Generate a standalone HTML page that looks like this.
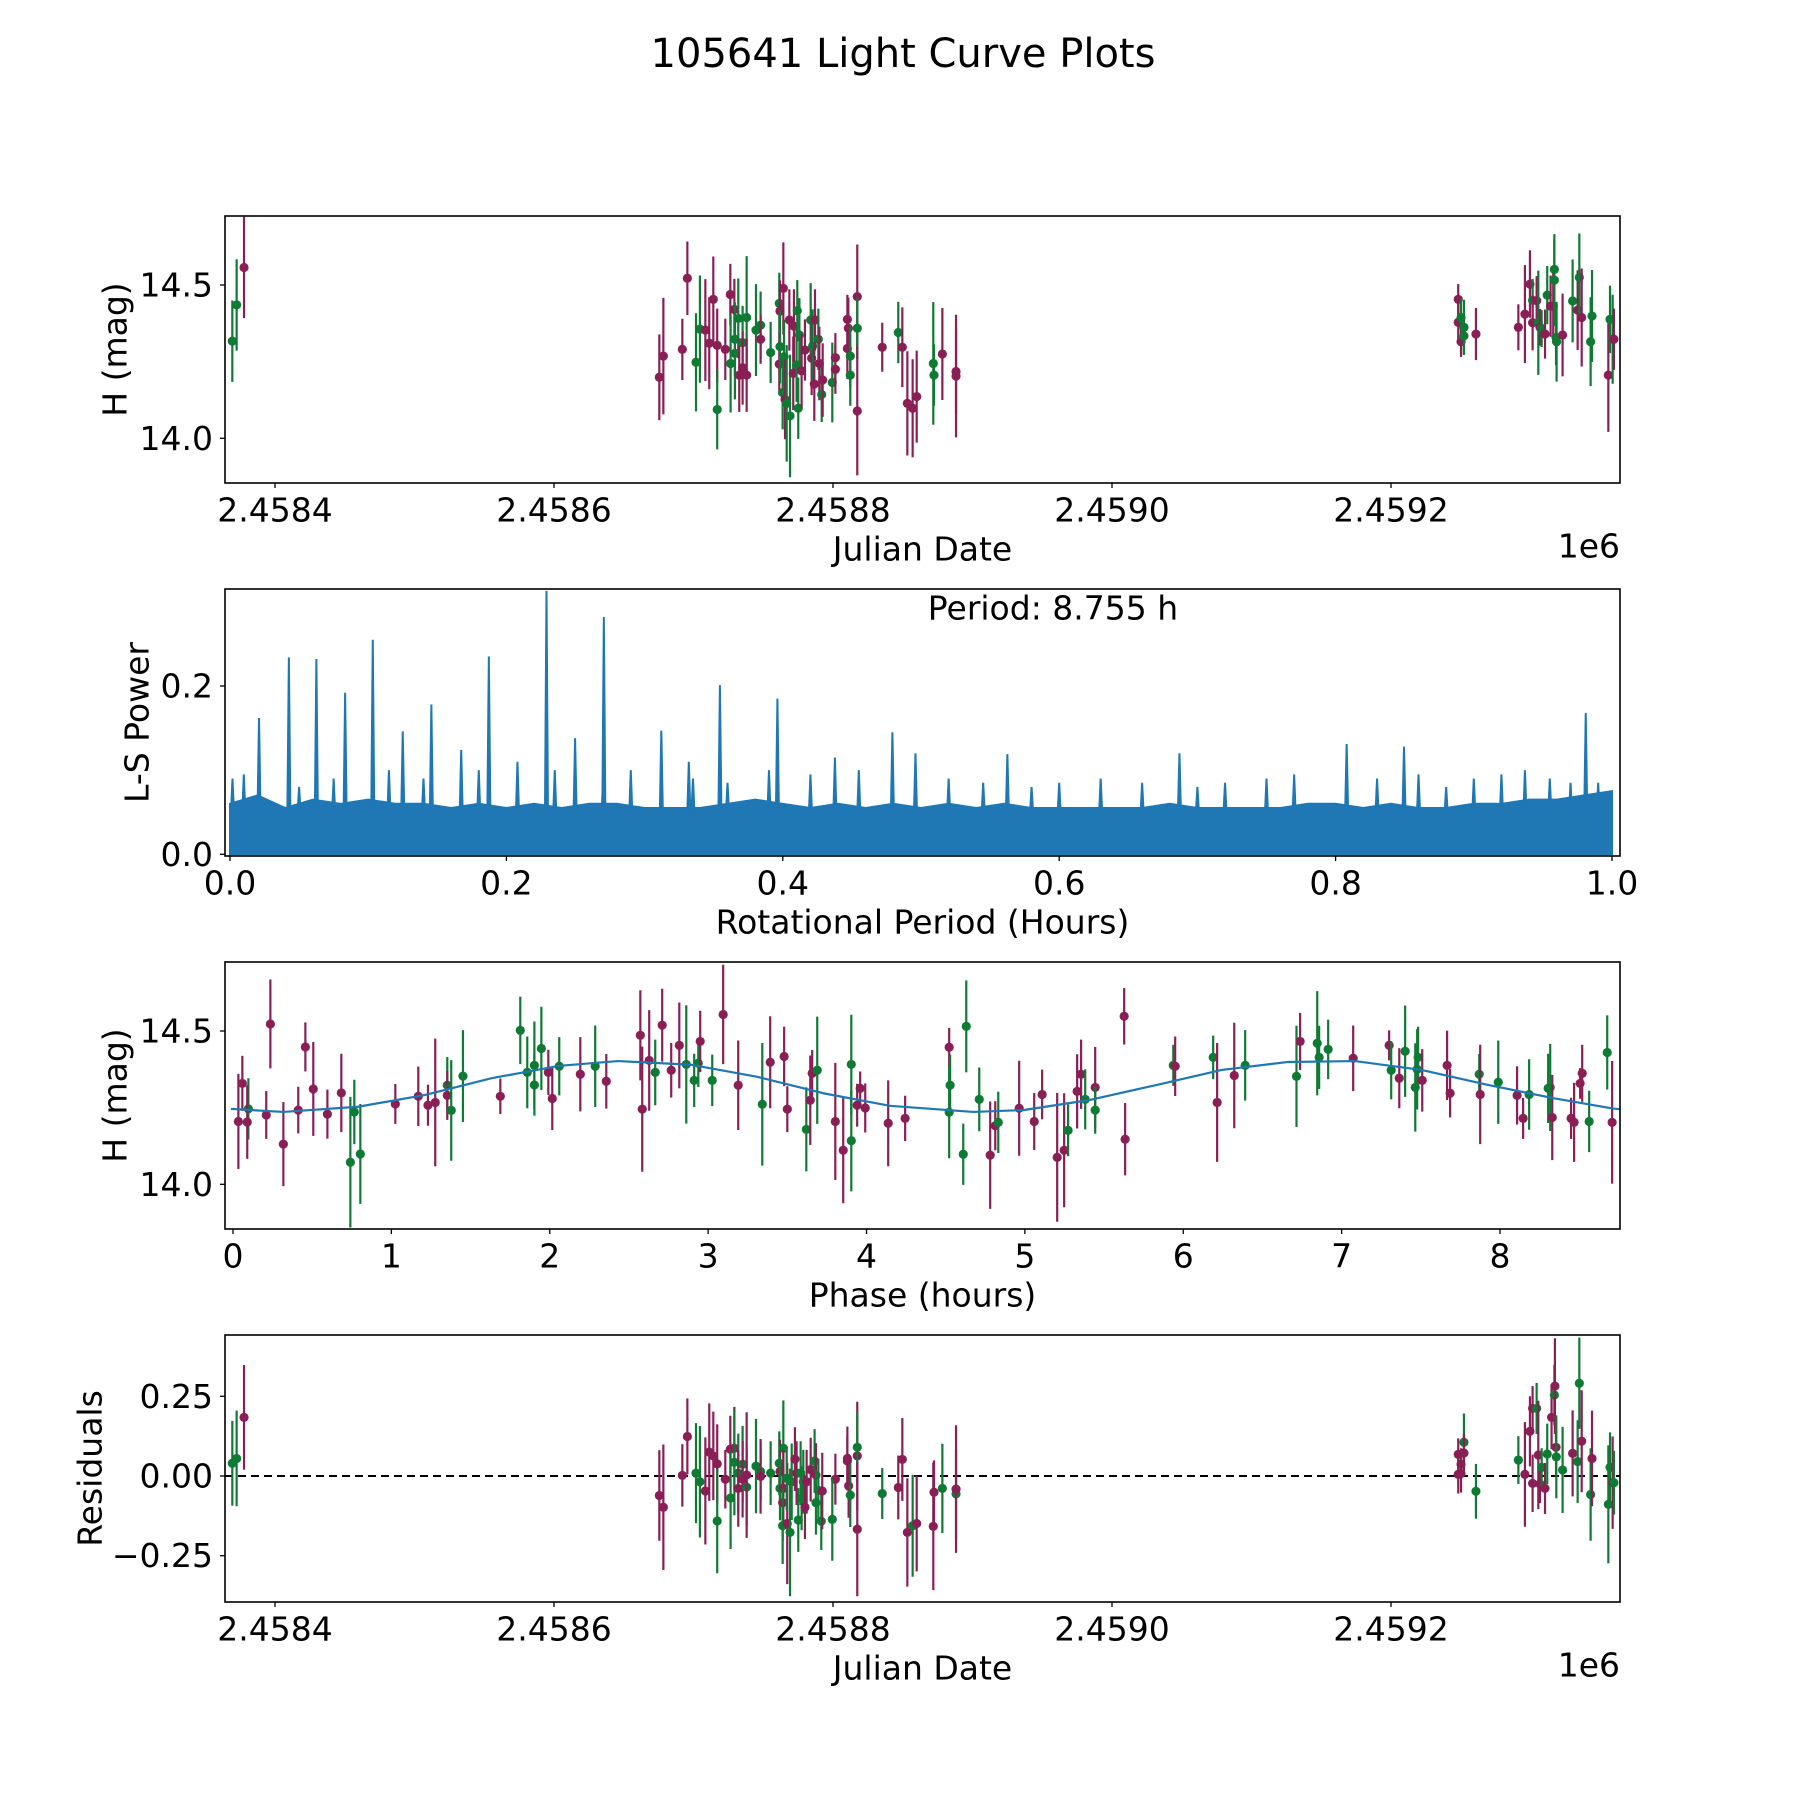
<!DOCTYPE html>
<html><head><meta charset="utf-8"><title>105641 Light Curve Plots</title>
<style>
html,body{margin:0;padding:0;background:#fff;}
svg{display:block;font-family:"DejaVu Sans","Liberation Sans",sans-serif;}
</style></head>
<body>
<svg id="fig" width="1800" height="1800" viewBox="0 0 1800 1800" xmlns="http://www.w3.org/2000/svg">
<rect x="0" y="0" width="1800" height="1800" fill="#fff"/>
<text x="903" y="54" font-size="40" text-anchor="middle" dominant-baseline="central">105641 Light Curve Plots</text>
</svg>
<script>
// ---------- Panel 1: light curve vs Julian Date (days after 2458400) ----------
const lcDays = [-30.6,-27.5,-22.2,
275.5,278.4,292,295.6,301.8,304.6,308.5,311.3,314.2,317,317,322.8,326.4,326.6,329.3,329.7,329.7,332.1,332.8,335.2,335.2,338.1,338.1,344.8,348.1,348.1,355.3,361.5,362,361.5,362,363.9,364.4,364.9,365.6,366.8,368.7,369.2,371.5,372,374.4,375.1,375.9,373.9,377.5,379.9,384,384.7,385.4,387.1,389.5,390.2,386.6,391.9,392.6,399.5,401.7,401.7,410.3,410.3,411,412.4,412.4,417.4,417.4,417.4,435.3,446.8,449.7,453.3,457.1,460,471.9,472.4,478.4,488.2,488.2,
848.2,848.2,850.2,850.2,852.3,852.3,860.9,891.3,896,899.6,901.5,901.5,904.4,905.6,906.8,908,910.4,912,914.4,916.3,917.1,917.1,918.3,918.7,923,930.2,933.8,935,936.7,943.1,944.1,955.8,957,958.9,959.8];
const lcMag = [14.317,14.435,14.557,
14.199,14.268,14.29,14.522,14.248,14.356,14.353,14.31,14.453,14.303,14.094,14.29,14.469,14.244,14.42,14.277,14.323,14.391,14.206,14.312,14.23,14.394,14.206,14.353,14.369,14.323,14.28,14.44,14.415,14.242,14.299,14.149,14.489,14.266,14.127,14.114,14.386,14.073,14.212,14.366,14.416,14.098,14.337,14.239,14.22,14.288,14.386,14.261,14.301,14.386,14.323,14.244,14.177,14.143,14.19,14.182,14.263,14.225,14.388,14.293,14.359,14.268,14.206,14.462,14.359,14.089,14.297,14.345,14.297,14.114,14.098,14.136,14.244,14.206,14.275,14.218,14.203,
14.453,14.378,14.394,14.315,14.362,14.334,14.34,14.362,14.405,14.503,14.45,14.377,14.449,14.377,14.362,14.358,14.34,14.467,14.431,14.431,14.551,14.516,14.329,14.315,14.337,14.448,14.418,14.525,14.394,14.315,14.399,14.206,14.388,14.323,14.323];
const lcErr = [0.133,0.149,0.165,
0.14,0.19,0.10,0.12,0.16,0.175,0.166,0.15,0.14,0.12,0.13,0.10,0.10,0.16,0.10,0.15,0.12,0.13,0.12,0.12,0.12,0.20,0.12,0.15,0.11,0.08,0.10,0.10,0.10,0.10,0.12,0.12,0.15,0.12,0.13,0.19,0.10,0.20,0.12,0.12,0.10,0.10,0.12,0.12,0.12,0.10,0.12,0.12,0.12,0.10,0.10,0.12,0.12,0.09,0.12,0.13,0.08,0.08,0.08,0.10,0.10,0.10,0.10,0.17,0.10,0.21,0.08,0.10,0.13,0.17,0.16,0.15,0.20,0.10,0.15,0.14,0.20,
0.05,0.06,0.06,0.05,0.09,0.06,0.085,0.075,0.16,0.11,0.07,0.09,0.08,0.17,0.06,0.06,0.08,0.095,0.1,0.12,0.095,0.15,0.09,0.13,0.135,0.135,0.13,0.143,0.16,0.145,0.15,0.185,0.11,0.145,0.1];
const lcBand = ("ggp"+"ppppggppppgppgpgggpgpgpggpggppggpgpgpgppggggppgpgpgppgpgpppppggpgppgppppggpppppg"+"pggppppgppgpgpgppggggpgpgpggpggpppppp").split("");

// ---------- Panel 2: Lomb-Scargle periodogram ----------
const lsEnvPeriod = [0,0.02,0.04,0.06,0.08,0.10,0.12,0.14,0.16,0.18,0.20,0.22,0.24,0.26,0.28,0.30,0.32,0.34,0.36,0.38,0.40,0.42,0.44,0.46,0.48,0.50,0.52,0.54,0.56,0.58,0.60,0.62,0.64,0.66,0.68,0.70,0.72,0.74,0.76,0.78,0.80,0.82,0.84,0.86,0.88,0.90,0.92,0.94,0.96,0.98,1.0];
const lsEnvPower = [0.06,0.07,0.055,0.065,0.06,0.065,0.06,0.06,0.055,0.06,0.055,0.06,0.055,0.06,0.06,0.055,0.055,0.055,0.06,0.065,0.06,0.055,0.06,0.055,0.06,0.055,0.06,0.055,0.06,0.055,0.055,0.055,0.055,0.055,0.06,0.055,0.055,0.055,0.055,0.06,0.06,0.055,0.06,0.055,0.055,0.06,0.06,0.065,0.065,0.07,0.075];
const lsPeakPeriod = [0.0018,0.021,0.0426,0.0625,0.0833,0.1033,0.125,0.1457,0.1673,0.1873,0.208,0.229,0.2497,0.2705,0.3121,0.332,0.3545,0.3961,0.4377,0.4793,0.496,0.5625,0.687,0.808,0.8495,0.937,0.981,
0.01,0.115,0.14,0.235,0.29,0.335,0.36,0.42,0.455,0.52,0.545,0.6,0.63,0.66,0.72,0.75,0.77,0.83,0.86,0.9,0.92,0.955,0.97,0.05,0.075,0.18,0.27,0.39,0.58,0.7,0.88,0.99];
const lsPeakPower = [0.09,0.162,0.234,0.232,0.192,0.255,0.146,0.178,0.124,0.235,0.11,0.313,0.138,0.282,0.147,0.11,0.201,0.185,0.115,0.145,0.12,0.119,0.12,0.131,0.128,0.1,0.168,
0.095,0.1,0.09,0.1,0.1,0.09,0.085,0.095,0.1,0.09,0.085,0.085,0.09,0.085,0.085,0.09,0.095,0.09,0.095,0.09,0.095,0.09,0.085,0.08,0.09,0.1,0.09,0.1,0.08,0.08,0.08,0.085];
const lsXTicks = [0,0.2,0.4,0.6,0.8,1.0];
const lsXTickLabels = ["0.0","0.2","0.4","0.6","0.8","1.0"];
const lsYTicks = [0,0.2];
const lsYTickLabels = ["0.0","0.2"];

// ---------- Panel 3: phased light curve ----------
const phHours = [0.034,0.059,0.097,0.09,0.21,0.236,0.318,0.412,0.457,0.507,0.596,0.684,0.741,0.766,0.804,1.025,1.17,1.231,1.277,1.353,1.353,1.378,1.452,1.688,1.814,1.858,1.903,1.903,1.947,1.991,2.016,2.06,2.193,2.287,2.357,2.572,2.584,2.628,2.666,2.71,2.767,2.818,2.862,2.912,
2.938,2.95,3.026,3.095,3.19,3.342,3.392,3.48,3.5,3.62,3.645,3.657,3.689,3.803,3.853,3.904,3.904,3.941,3.96,3.992,4.137,4.244,4.522,4.522,4.528,4.63,4.611,4.712,4.781,4.813,4.832,4.964,5.059,5.109,5.204,5.248,5.273,5.33,5.355,5.381,5.444,5.444,5.627,5.633,
5.937,5.949,6.189,6.214,6.322,6.391,6.715,6.738,6.846,6.858,6.915,7.073,7.3,7.313,7.364,7.401,7.465,7.477,7.483,7.509,7.666,7.685,7.869,7.875,7.989,8.108,8.146,8.184,8.304,8.317,8.33,8.449,8.468,8.506,8.519,8.563,8.677,8.708];
const phMag = [14.205,14.329,14.246,14.203,14.226,14.523,14.131,14.242,14.448,14.311,14.229,14.298,14.072,14.236,14.099,14.262,14.287,14.258,14.267,14.323,14.29,14.241,14.353,14.287,14.502,14.365,14.388,14.324,14.443,14.365,14.28,14.385,14.359,14.385,14.336,14.486,14.245,14.404,14.365,14.519,14.372,14.453,14.391,14.339,
14.395,14.466,14.339,14.554,14.323,14.261,14.398,14.417,14.245,14.179,14.274,14.362,14.372,14.205,14.111,14.391,14.142,14.258,14.313,14.249,14.199,14.215,14.447,14.235,14.323,14.515,14.098,14.277,14.095,14.191,14.202,14.248,14.205,14.293,14.088,14.111,14.176,14.303,14.359,14.277,14.316,14.242,14.548,14.147,
14.388,14.385,14.414,14.267,14.355,14.388,14.352,14.466,14.46,14.414,14.44,14.411,14.453,14.372,14.346,14.434,14.316,14.375,14.414,14.339,14.388,14.297,14.359,14.293,14.333,14.29,14.215,14.293,14.313,14.316,14.218,14.215,14.202,14.329,14.362,14.205,14.43,14.202];
const phErr = [0.155,0.09,0.10,0.12,0.078,0.145,0.137,0.076,0.08,0.153,0.08,0.128,0.213,0.105,0.163,0.065,0.097,0.067,0.208,0.092,0.08,0.164,0.15,0.058,0.11,0.117,0.143,0.1,0.136,0.074,0.103,0.095,0.121,0.133,0.089,0.147,0.204,0.164,0.107,0.119,0.089,0.14,0.193,0.087,
0.078,0.10,0.084,0.162,0.146,0.2,0.15,0.097,0.075,0.137,0.146,0.076,0.175,0.191,0.173,0.162,0.165,0.07,0.055,0.08,0.14,0.074,0.063,0.15,0.1,0.15,0.1,0.104,0.175,0.08,0.1,0.155,0.093,0.081,0.21,0.186,0.084,0.121,0.113,0.098,0.132,0.077,0.092,0.118,
0.067,0.097,0.071,0.194,0.172,0.115,0.165,0.093,0.17,0.103,0.097,0.107,0.049,0.095,0.098,0.149,0.144,0.131,0.1,0.102,0.113,0.079,0.066,0.162,0.136,0.095,0.067,0.115,0.113,0.142,0.139,0.067,0.129,0.05,0.093,0.1,0.121,0.2];
const phBand = ("ppgpppppppppgggppppgpggpgggggppgpgppppgpppgg"+"gpgppgpppgppgppggppppppgggggppgpppppgppgpgppg"+"pgppggpgggppgpggggpppgpgppgggpppppgg").split("");
const modelPhase = [-0.013,0.318,0.79,1.21,1.633,2.054,2.43,2.89,3.306,3.727,4.148,4.674,4.989,5.41,5.84,6.242,6.663,7.084,7.504,7.925,8.346,8.714,8.755];
const modelMag = [14.246,14.236,14.253,14.291,14.346,14.386,14.402,14.39,14.351,14.297,14.256,14.236,14.242,14.275,14.325,14.373,14.399,14.402,14.373,14.324,14.280,14.247,14.245];
const phXTicks = [0,1,2,3,4,5,6,7,8];

// ---------- Panel 4: residuals vs Julian Date ----------
const resDays = [-30.6,-27.5,-22.2,
275.5,278.4,292,295.6,301.8,304.6,308.5,311.3,314.2,317,317,322.8,326.4,326.6,329.3,329.3,332.1,332.1,335.2,335.2,338.1,338.1,344.8,348.1,348.1,355.3,361.5,362,362,363.9,364.4,364.4,363.9,367.2,369.2,366.8,370.4,372.7,373.9,375.1,376.8,377.5,378.7,379.9,381.1,384,386.8,387.8,387.8,389.5,391.6,392.3,401.7,399.5,410.3,410.3,411.2,412.4,417.4,417.4,417.4,435.3,446.8,449.7,453.3,457.1,460,471.9,472.4,478.4,488.2,488.2,
848.2,848.2,850.2,850.2,852.3,852.3,860.9,891.3,896,899.6,901.5,901.5,904.4,905.6,906.8,908,910.4,912,915.1,917.1,917.5,918.3,918.5,923,930.2,933.8,935,936.7,943.1,944.1,955.8,957,958.9,959.8];
const resVal = [0.04,0.055,0.184,
-0.061,-0.098,0.002,0.124,0.009,-0.018,-0.047,0.075,0.063,0.038,-0.141,-0.01,0.084,-0.069,0.087,0.043,0.009,-0.039,0.037,-0.01,-0.035,0.003,0.031,0.014,-0.001,0.009,0.04,0.014,-0.039,-0.084,0.087,-0.039,-0.156,-0.149,-0.177,-0.007,-0.018,0.053,0.009,-0.138,0.009,-0.07,-0.018,-0.098,-0.018,0.02,0.047,0.003,-0.084,-0.045,-0.142,-0.047,-0.01,-0.136,0.047,0.055,-0.031,-0.06,0.063,0.09,-0.167,-0.055,-0.036,0.052,-0.177,-0.156,-0.149,-0.158,-0.051,-0.039,-0.056,-0.041,
0.068,0.005,0.008,0.037,0.106,0.072,-0.048,0.05,0.005,0.14,0.212,-0.023,0.212,0.066,-0.025,0.027,-0.039,0.069,0.184,0.254,0.282,0.09,0.06,0.019,0.071,0.045,0.291,0.109,-0.058,0.055,-0.089,0.027,-0.021,-0.021];
const resErr = [0.133,0.15,0.164,
0.142,0.197,0.098,0.119,0.157,0.175,0.168,0.153,0.139,0.124,0.164,0.092,0.105,0.16,0.13,0.166,0.124,0.12,0.12,0.12,0.12,0.197,0.148,0.09,0.117,0.1,0.1,0.1,0.1,0.12,0.15,0.12,0.12,0.19,0.2,0.1,0.12,0.1,0.1,0.1,0.1,0.1,0.1,0.1,0.1,0.1,0.1,0.1,0.1,0.1,0.09,0.12,0.08,0.13,0.08,0.1,0.1,0.1,0.17,0.11,0.21,0.08,0.1,0.13,0.17,0.16,0.15,0.2,0.1,0.14,0.14,0.2,
0.05,0.06,0.06,0.05,0.09,0.06,0.086,0.075,0.164,0.11,0.07,0.09,0.08,0.17,0.06,0.06,0.08,0.095,0.1,0.095,0.15,0.09,0.13,0.135,0.135,0.13,0.143,0.16,0.145,0.15,0.185,0.11,0.145,0.1];
const resBand = ("ggp"+"ppppggppppgppgpggpgpgpggpggpgpgpgpgggppggggpppgpgggppgpppgpgpgpppgpppggpppppg"+"pggppppgppgpgpgppggpggpgpggpggpppppp").split("");

const jdTicks = [0,200,400,600,800];
const jdTickLabels = ["2.4584","2.4586","2.4588","2.4590","2.4592"];
const magTicks = [14.0,14.5];
const magTickLabels = ["14.0","14.5"];
const resTicks = [-0.25,0,0.25];
const resTickLabels = ["\u22120.25","0.00","0.25"];

// ---------- drawing ----------
const NS = "http://www.w3.org/2000/svg";
const svg = document.getElementById("fig");
const PURPLE = "#8a1f55", GREEN = "#0f7a33", BLUE = "#1f77b4";
const FS = 33;
const L = 225, R = 1620, H = 267;
const tops = [216, 589, 962, 1335];

function el(tag, attrs, parent) {
  const e = document.createElementNS(NS, tag);
  for (const k in attrs) e.setAttribute(k, attrs[k]);
  (parent || svg).appendChild(e);
  return e;
}
function lin(d0, d1, p0, p1) { return v => p0 + (v - d0) * (p1 - p0) / (d1 - d0); }

function makeAxes(idx, name, xs, ys) {
  const g = el("g", {});
  
  
  const clipId = "clip" + idx;
  const cp = el("clipPath", {id: clipId}, g);
  el("rect", {x: L, y: tops[idx], width: R - L, height: H}, cp);
  const plot = el("g", {"clip-path": "url(#" + clipId + ")"}, g);
  
  
  return {g, plot, xs, ys, top: tops[idx], bottom: tops[idx] + H};
}
function frame(ax, name) {
  const r = el("rect", {x: L, y: ax.top, width: R - L, height: H, fill: "none", stroke: "#000", "stroke-width": 1.6}, ax.g);
  
  
}
function xTicks(ax, vals, labels, name) {
  vals.forEach((v, i) => {
    const x = ax.xs(v);
    const t = el("line", {x1: x, x2: x, y1: ax.bottom, y2: ax.bottom + 5, stroke: "#000", "stroke-width": 1.3}, ax.g);
    
    
    const tx = el("text", {x: x, y: ax.bottom + 27, "font-size": FS, "text-anchor": "middle", "dominant-baseline": "central"}, ax.g);
    tx.textContent = labels[i];
    
    
  });
}
function yTicks(ax, vals, labels, name) {
  vals.forEach((v, i) => {
    const y = ax.ys(v);
    const t = el("line", {x1: L - 5, x2: L, y1: y, y2: y, stroke: "#000", "stroke-width": 1.3}, ax.g);
    
    
    const tx = el("text", {x: L - 12, y: y, "font-size": FS, "text-anchor": "end", "dominant-baseline": "central"}, ax.g);
    tx.textContent = labels[i];
    
    
  });
}
function xLabel(ax, text, name) {
  const t = el("text", {x: (L + R) / 2, y: ax.bottom + 66, "font-size": FS, "text-anchor": "middle", "dominant-baseline": "central"}, ax.g);
  t.textContent = text;
  
  
}
function yLabel(ax, text, x, name) {
  const cy = ax.top + H / 2;
  const t = el("text", {x: x, y: cy, "font-size": FS, "text-anchor": "middle", "dominant-baseline": "central", transform: "rotate(-90 " + x + " " + cy + ")"}, ax.g);
  t.textContent = text;
  
  
}
function offsetText(ax, name) {
  const t = el("text", {x: R, y: ax.bottom + 63, "font-size": FS, "text-anchor": "end", "dominant-baseline": "central"}, ax.g);
  t.textContent = "1e6";
  
  
}
function errPoints(ax, xv, yv, ev, bv, name) {
  xv.forEach((xd, i) => {
    const c = bv[i] === "g" ? GREEN : PURPLE;
    const x = ax.xs(xd), y = ax.ys(yv[i]);
    const bar = el("line", {x1: x, x2: x, y1: ax.ys(yv[i] + ev[i]), y2: ax.ys(yv[i] - ev[i]), stroke: c, "stroke-width": 2.2}, ax.plot);
    
    
    const pt = el("circle", {cx: x, cy: y, r: 4.6, fill: c}, ax.plot);
    
    
  });
}

// Panel 1
const jdX = lin(0, 200, 275, 554);
const ax1 = makeAxes(0, "light-curve-panel", jdX, lin(14.0, 14.5, 438.3, 285));
errPoints(ax1, lcDays, lcMag, lcErr, lcBand, "light-curve");
frame(ax1, "light-curve");
xTicks(ax1, jdTicks, jdTickLabels, "light-curve");
yTicks(ax1, magTicks, magTickLabels, "light-curve");
xLabel(ax1, "Julian Date", "light-curve");
yLabel(ax1, "H (mag)", 115, "light-curve");
offsetText(ax1, "light-curve");

// Panel 2
const ax2 = makeAxes(1, "periodogram-panel", lin(0, 1, 230, 1612), lin(0, 0.2, 854.3, 686));
{
  let d = "M" + ax2.xs(lsEnvPeriod[0]) + "," + ax2.ys(0);
  lsEnvPeriod.forEach((p, i) => { d += " L" + ax2.xs(p) + "," + ax2.ys(lsEnvPower[i]); });
  d += " L" + ax2.xs(lsEnvPeriod[lsEnvPeriod.length - 1]) + "," + ax2.ys(0) + " Z";
  const area = el("path", {d: d, fill: BLUE, stroke: BLUE, "stroke-width": 2}, ax2.plot);
  
  
  lsPeakPeriod.forEach((p, i) => {
    const x = ax2.xs(p);
    const sp = el("path", {d: "M" + (x - 1.5) + "," + ax2.ys(0.05) + " L" + x + "," + ax2.ys(lsPeakPower[i]) + " L" + (x + 1.5) + "," + ax2.ys(0.05), fill: BLUE, stroke: BLUE, "stroke-width": 2}, ax2.plot);
    
    
  });
}
frame(ax2, "periodogram");
xTicks(ax2, lsXTicks, lsXTickLabels, "periodogram");
yTicks(ax2, lsYTicks, lsYTickLabels, "periodogram");
xLabel(ax2, "Rotational Period (Hours)", "periodogram");
yLabel(ax2, "L-S Power", 137, "periodogram");
{
  const t = el("text", {x: 1053, y: 608, "font-size": FS, "text-anchor": "middle", "dominant-baseline": "central"}, ax2.g);
  t.textContent = "Period: 8.755 h";
  
  
}

// Panel 3
const ax3 = makeAxes(2, "phase-panel", lin(0, 8, 233, 1500), lin(14.0, 14.5, 1184.3, 1031));
errPoints(ax3, phHours, phMag, phErr, phBand, "phase");
{
  let d = "";
  modelPhase.forEach((p, i) => { d += (i ? " L" : "M") + ax3.xs(p) + "," + ax3.ys(modelMag[i]); });
  const m = el("path", {d: d, fill: "none", stroke: BLUE, "stroke-width": 2.2, "stroke-linejoin": "round"}, ax3.plot);
  
  
}
frame(ax3, "phase");
xTicks(ax3, phXTicks, phXTicks.map(String), "phase");
yTicks(ax3, magTicks, magTickLabels, "phase");
xLabel(ax3, "Phase (hours)", "phase");
yLabel(ax3, "H (mag)", 115, "phase");

// Panel 4
const ax4 = makeAxes(3, "residuals-panel", jdX, lin(0, 0.25, 1476, 1396.3));
{
  const z = el("line", {x1: L, x2: R, y1: ax4.ys(0), y2: ax4.ys(0), stroke: "#000", "stroke-width": 2, "stroke-dasharray": "8,5"}, ax4.plot);
  
  
}
errPoints(ax4, resDays, resVal, resErr, resBand, "residual");
frame(ax4, "residuals");
xTicks(ax4, jdTicks, jdTickLabels, "residuals");
yTicks(ax4, resTicks, resTickLabels, "residuals");
xLabel(ax4, "Julian Date", "residuals");
yLabel(ax4, "Residuals", 90, "residuals");
offsetText(ax4, "residuals");
</script>
</body></html>
